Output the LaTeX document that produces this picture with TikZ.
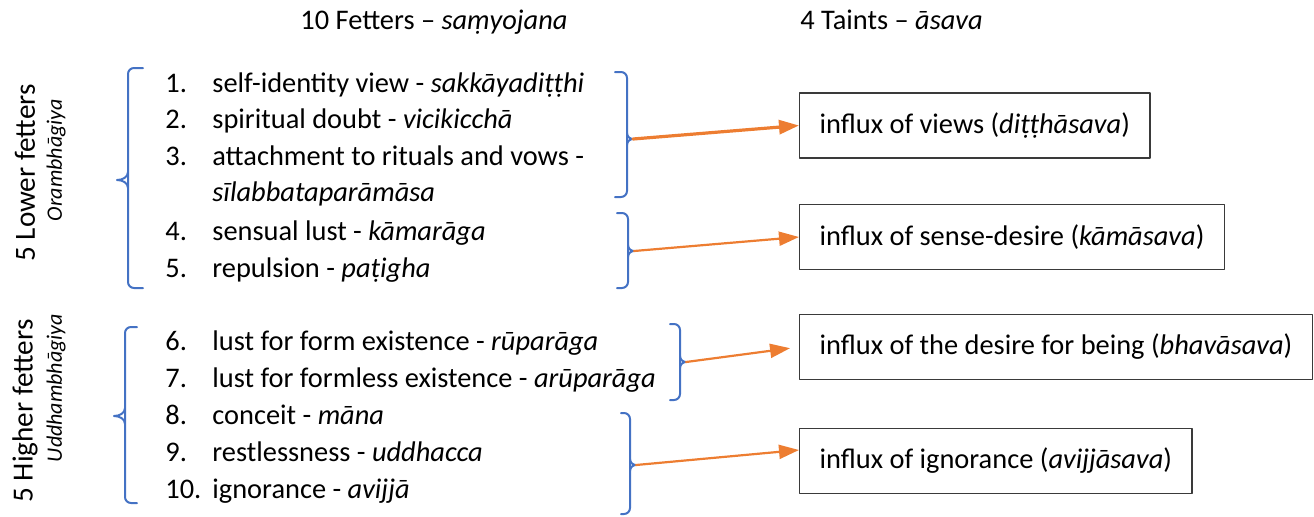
\documentclass[tikz,border=0pt]{standalone}
\usepackage{fontspec}
\setmainfont{Carlito}
\usetikzlibrary{arrows.meta}
\definecolor{braceblue}{HTML}{4472C4}
\definecolor{arroworange}{HTML}{ED7D31}
\definecolor{boxgray}{HTML}{3A3A3A}

\begin{document}
\begin{tikzpicture}[x=0.5pt, y=-0.5pt, font=\fontsize{14.2}{17}\selectfont, line join=round, line cap=round,
		brace/.style={draw=braceblue, line width=1pt, rounded corners=3pt},
		spur/.style={draw=braceblue, line width=1pt},
		link/.style={draw=arroworange, line width=1.1pt, -{Triangle[length=10pt,width=7pt]}},
		taint/.style={draw=boxgray, line width=0.7pt, minimum height=32.5pt, inner xsep=10pt, anchor=west},
		item/.style={anchor=base west, inner sep=0pt},
		side/.style={rotate=90, inner sep=0pt, font=\fontsize{14.6}{17}\selectfont},
		pali/.style={rotate=90, inner sep=0pt, font=\fontsize{11}{13}\selectfont\itshape}]
		\useasboundingbox (0,0) rectangle (1314,516);
		% headings
		\node[item] (hfetters) at (300,29) {10 Fetters – \textit{saṃyojana}};
		\node[item] (htaints) at (800,29) {4 Taints – \textit{āsava}};
		% side labels
		\node[side] (lower) at (25,173) {5 Lower fetters};
		\node[pali] (lowerpali) at (56,160) {Orambhāgiya};
		\node[side] (higher) at (25,411) {5 Higher fetters};
		\node[pali] (higherpali) at (56,388) {Uddhambhāgiya};
		% the ten fetters
		\node[item] (n1) at (165,92) {1.};
		\node[item] (f1) at (212,92) {self-identity view - \textit{sakkāyadiṭṭhi}};
		\node[item] (n2) at (165,128) {2.};
		\node[item] (f2) at (212,128) {spiritual doubt - \textit{vicikicchā}};
		\node[item] (n3) at (165,165) {3.};
		\node[item] (f3) at (212,165) {attachment to rituals and vows -};
		\node[item] (f3b) at (212,201) {\textit{sīlabbataparāmāsa}};
		\node[item] (n4) at (165,240) {4.};
		\node[item] (f4) at (212,240) {sensual lust - \textit{kāmarāga}};
		\node[item] (n5) at (165,277) {5.};
		\node[item] (f5) at (212,277) {repulsion - \textit{paṭigha}};
		\node[item] (n6) at (165,350) {6.};
		\node[item] (f6) at (212,350) {lust for form existence - \textit{rūparāga}};
		\node[item] (n7) at (165,387) {7.};
		\node[item] (f7) at (212,387) {lust for formless existence - \textit{arūparāga}};
		\node[item] (n8) at (165,424) {8.};
		\node[item] (f8) at (212,424) {conceit - \textit{māna}};
		\node[item] (n9) at (165,461) {9.};
		\node[item] (f9) at (212,461) {restlessness - \textit{uddhacca}};
		\node[item] (n10) at (165,498) {10.};
		\node[item] (f10) at (212,498) {ignorance - \textit{avijjā}};
		% left braces
		\draw[brace] (143,68) -- (128,68) -- (128,288) -- (143,288);
		\draw[spur] (128,172) to[out=-90,in=0] (117,180) to[out=0,in=90] (128,188);
		\draw[brace] (137,327) -- (125,327) -- (125,503) -- (137,503);
		\draw[spur] (125,408) to[out=-90,in=0] (114,416) to[out=0,in=90] (125,424);
		% right braces
		\draw[brace] (615,72) -- (627,72) -- (627,197) -- (615,197);
		\draw[spur] (627,133) to[out=-90,in=180] (633,139) to[out=180,in=90] (627,145);
		\coordinate (r1) at (633,139);
		\draw[brace] (617,213) -- (628,213) -- (628,288) -- (617,288);
		\draw[spur] (628,245) to[out=-90,in=180] (634,251) to[out=180,in=90] (628,257);
		\coordinate (r2) at (634,251);
		\draw[brace] (670,324) -- (680,324) -- (680,400) -- (670,400);
		\draw[spur] (680,356) to[out=-90,in=180] (686,362) to[out=180,in=90] (680,368);
		\coordinate (r3) at (686,362);
		\draw[brace] (621,413) -- (630,413) -- (630,514) -- (621,514);
		\draw[spur] (630,459) to[out=-90,in=180] (636,465) to[out=180,in=90] (630,471);
		\coordinate (r4) at (636,465);
		% the four taints
		\node[taint] (t1) at (799,125.5) {influx of views (\textit{diṭṭhāsava})};
		\node[taint] (t2) at (799,237) {influx of sense-desire (\textit{kāmāsava})};
		\node[taint] (t3) at (799,347) {influx of the desire for being (\textit{bhavāsava})};
		\node[taint] (t4) at (799,461) {influx of ignorance (\textit{avijjāsava})};
		% arrows
		\draw[link, line width=1.6pt] (r1) -- (t1.west);
		\draw[link] (r2) -- (t2.west);
		\draw[link, shorten >=4.5pt] (r3) -- (t3.west);
		\draw[link] (r4) -- ([yshift=5.5pt]t4.west);
\end{tikzpicture}
\end{document}
